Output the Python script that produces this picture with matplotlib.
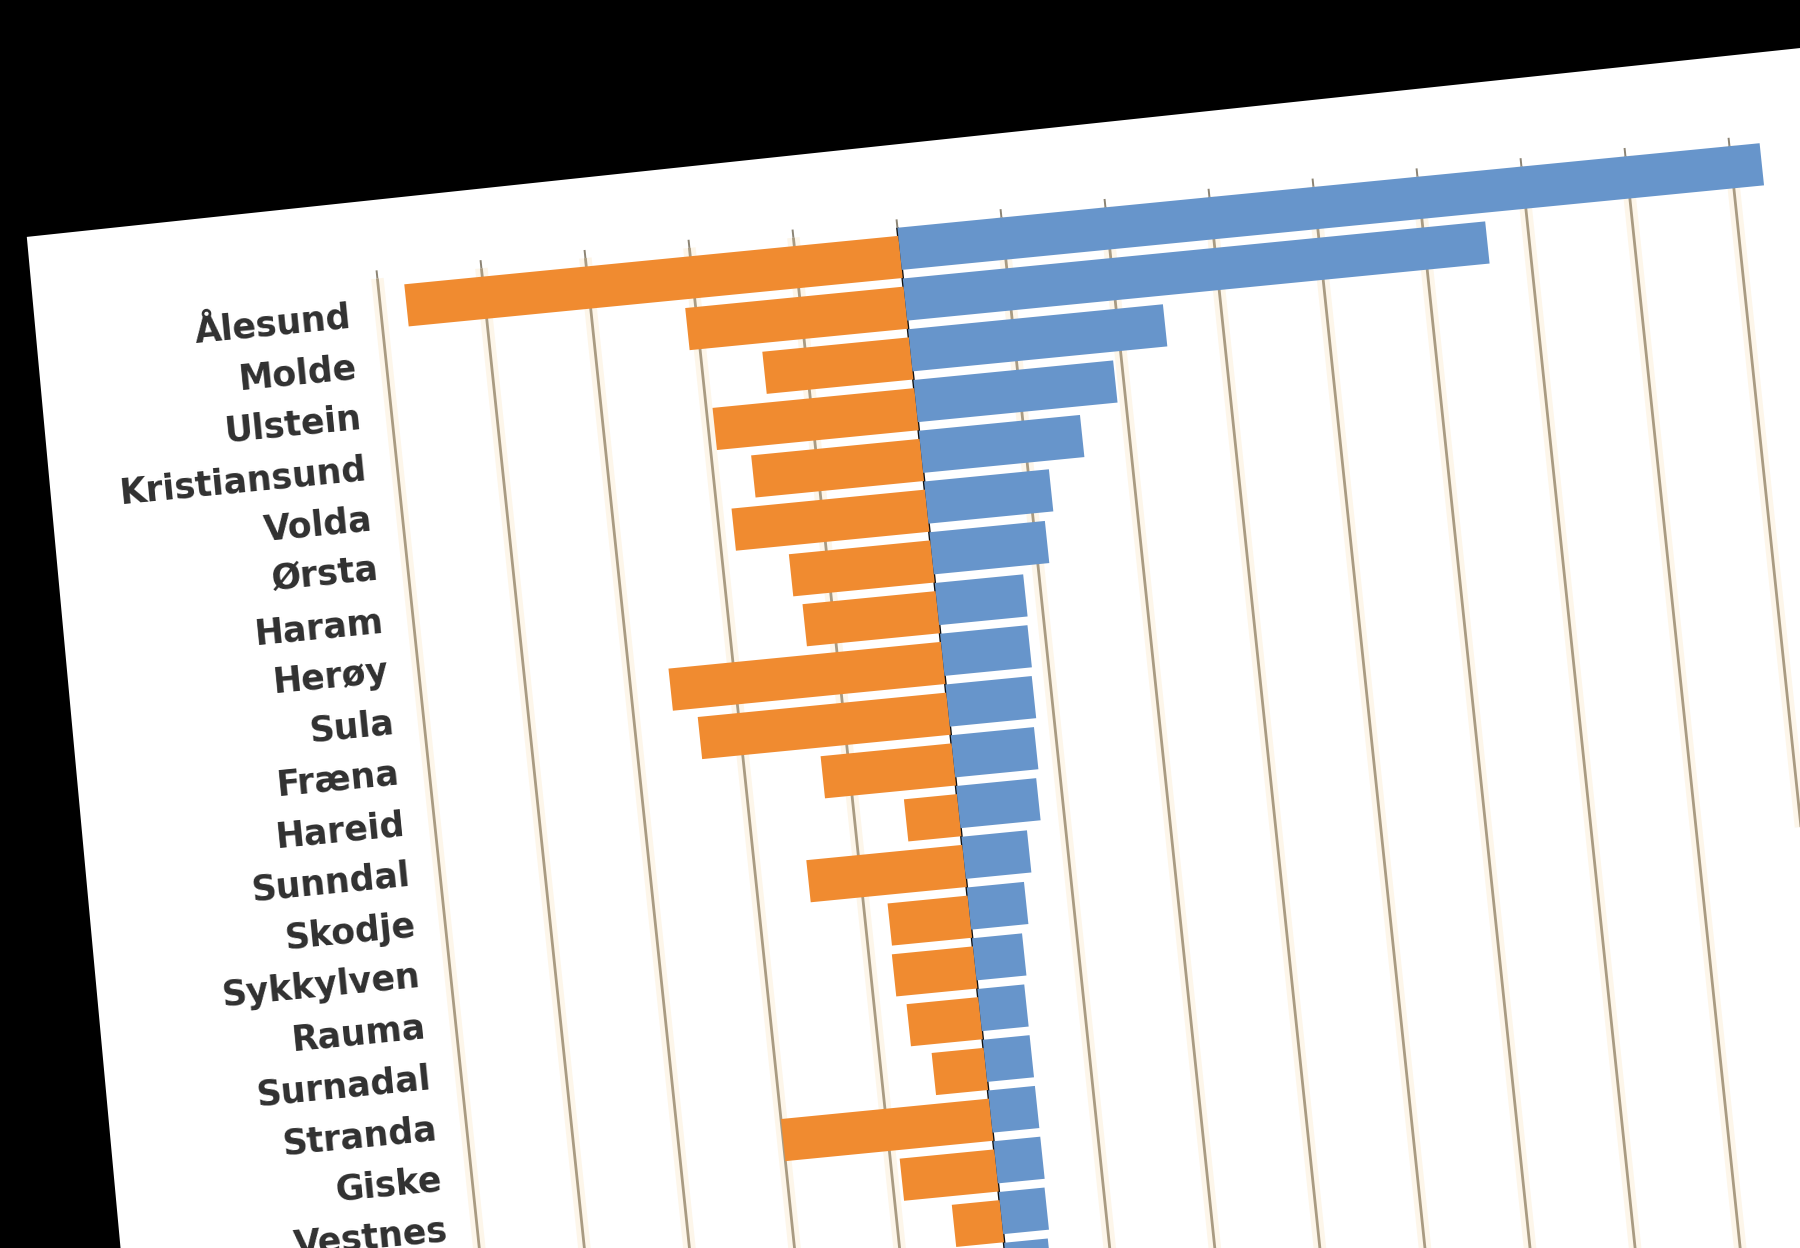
import numpy as np
import matplotlib
matplotlib.use("Agg")
import matplotlib.pyplot as plt
from matplotlib.transforms import Affine2D, IdentityTransform
from matplotlib.patches import Polygon

# ---------------- data ----------------
municipalities = ["Ålesund", "Molde", "Ulstein", "Kristiansund", "Volda", "Ørsta",
                  "Haram", "Herøy", "Sula", "Fræna", "Hareid", "Sunndal", "Skodje",
                  "Sykkylven", "Rauma", "Surnadal", "Stranda", "Giske", "Vestnes", "", ""]
orange_values = [4.75, 2.10, 1.41, 1.94, 1.62, 1.86, 1.36, 1.28, 2.62, 2.39, 1.26,
                 0.51, 1.50, 0.77, 0.78, 0.69, 0.50, 2.00, 0.91, 0.46, 0.32]
blue_values = [8.29, 5.60, 2.45, 1.92, 1.55, 1.20, 1.11, 0.85, 0.84, 0.83, 0.80,
               0.77, 0.63, 0.55, 0.48, 0.45, 0.45, 0.45, 0.45, 0.44, 0.42]
grid_ticks = list(range(-5, 10))

ORANGE = "#F08B30"
BLUE = "#6795CB"
GRID = "#A99B82"
GLOW = "#FDF6EA"
TEXT = "#303030"

# ---------------- figure / geometry ----------------
W, H, DPI = 1800, 1248, 100
fig = plt.figure(figsize=(W / DPI, H / DPI), dpi=DPI, facecolor="black")

PX, PY = 897.4, H - 227.5        # pivot: zero line at top of plot area
UNIT = 104.5                     # pixels per grid unit
PITCH = 51.03                    # pixels per category row
XMIN, XMAX = -5, 10
YTOP, YBOT = -0.5, 25.5

ax_w = (XMAX - XMIN) * UNIT
ax_h = (YBOT - YTOP) * PITCH
ax_left = PX + XMIN * UNIT
ax_bottom = PY - ax_h
ax = fig.add_axes([ax_left / W, ax_bottom / H, ax_w / W, ax_h / H])
ax.axis("off")

# photographed slide: slight tilt
a, b = np.radians(5.6), np.radians(6.0)
M = np.array([[np.cos(a), -np.sin(b), 0.0],
              [np.sin(a), np.cos(b), 0.0],
              [0.0, 0.0, 1.0]])
tilt = Affine2D().translate(-PX, -PY) + Affine2D(M) + Affine2D().translate(PX, PY)
T = ax.transData + tilt

# white slide behind the chart
slide_img = [(26.8, 236.9),
             (2100, 236.9 - 0.1065 * (2100 - 26.8)),
             (2100, 1500),
             (26.8 + 0.0927 * (1500 - 236.9), 1500)]
slide_disp = [(x, H - y) for x, y in slide_img]
fig.add_artist(Polygon(slide_disp, closed=True, facecolor="white", edgecolor="none",
                       transform=IdentityTransform(), zorder=-10))

# ---------------- gridlines, axis, ticks ----------------
for g in grid_ticks:
    if g == 0:
        continue
    ax.plot([g, g], [YBOT, YTOP], color=GLOW, lw=9, transform=T,
            clip_on=False, zorder=1, solid_capstyle="butt")
for g in grid_ticks:
    if g == 0:
        continue
    ax.plot([g, g], [YBOT, YTOP], color=GRID, lw=2.0, transform=T, clip_on=False,
            zorder=1.5, solid_capstyle="butt")
ax.plot([0, 0], [YBOT, YTOP], color="#111111", lw=1.9, transform=T, clip_on=False,
        zorder=2, solid_capstyle="butt")
for g in grid_ticks:
    ax.plot([g, g], [YTOP, YTOP - 0.16], color="#8C8474", lw=1.4, transform=T,
            clip_on=False, zorder=2, solid_capstyle="butt")

# ---------------- bars ----------------
y = np.arange(len(municipalities))
bars_o = ax.barh(y + 0.08, -np.array(orange_values), height=0.83, color=ORANGE,
                 zorder=3, linewidth=0)
bars_b = ax.barh(y - 0.08, blue_values, height=0.83, color=BLUE, zorder=3, linewidth=0)
for p in list(bars_o) + list(bars_b):
    p.set_transform(T)
    p.set_clip_on(False)

# ---------------- category labels ----------------
for i, name in enumerate(municipalities):
    if not name:
        continue
    ax.text(XMIN - 30 / UNIT, i + 0.2, name, ha="right", va="center",
            rotation=np.degrees(a), rotation_mode="anchor", transform=T,
            fontsize=25, fontweight="bold", color=TEXT, clip_on=False,
            family="DejaVu Sans")

ax.set_xlim(XMIN, XMAX)
ax.set_ylim(YBOT, YTOP)

fig.savefig("out.png", dpi=DPI, facecolor="black")
